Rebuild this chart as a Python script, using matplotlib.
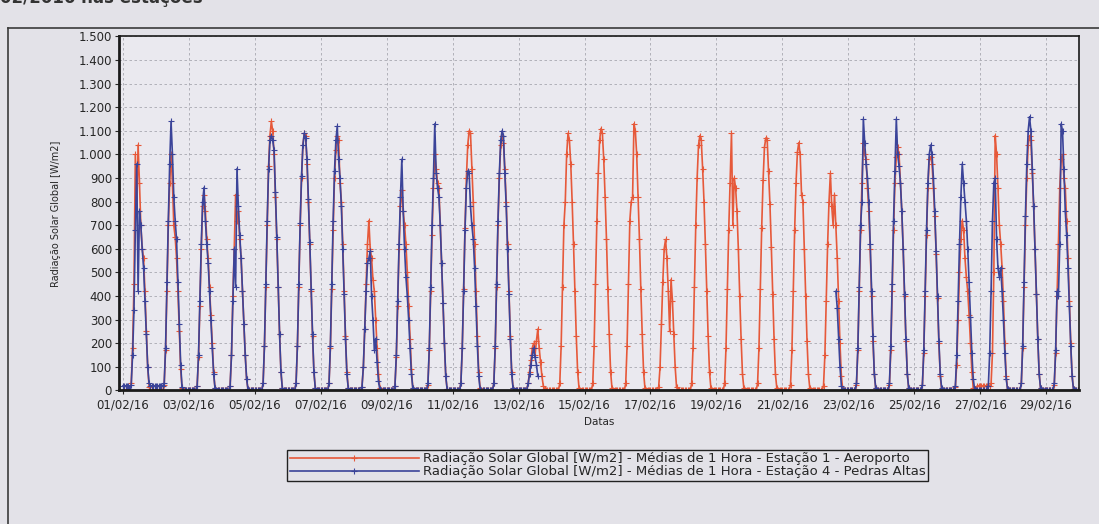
import numpy as np
import pandas as pd
import matplotlib
matplotlib.use("Agg")
import matplotlib.pyplot as plt
import matplotlib.dates as mdates
from matplotlib.ticker import FuncFormatter, MultipleLocator
from matplotlib.lines import Line2D

nan = np.nan

# dias de fevereiro/2016
dias = pd.date_range("2016-02-01", "2016-02-29", freq="D")

# madrugada (0h-4h) de cada dia
aero_madrugada = [0, 0, 0, 0, 0, 0, 0, 0, 0, 0, 0, 0, 0, 0, 0,
                  0, 0, 0, 0, 0, 0, 0, 0, 0, 0, 0, 20, 0, 0]
pedras_madrugada = [20, 20, 0, 0, 0, 0, 0, 0, 0, 0, 0, 0, 0, nan, nan,
                    nan, nan, nan, nan, nan, nan, nan, 0, 0, 0, 0, 0, 0, 0]

# valores horarios das 5h as 23h, Estacao 1 - Aeroporto
aero_perfil = [
    [0, 30, 180, 450, 1000, 760, 1040, 880, 700, 600, 560, 420, 250, 100, 15, 0, 0, 0, 0],
    [0, 25, 170, 420, 700, 880, 1000, 880, 700, 650, 560, 420, 250, 90, 10, 0, 0, 0, 0],
    [0, 20, 140, 360, 600, 780, 830, 760, 640, 560, 440, 320, 200, 80, 10, 0, 0, 0, 0],
    [0, 20, 150, 400, 600, 830, 720, 760, 640, 560, 420, 280, 150, 50, 5, 0, 0, 0, 0],
    [0, 30, 190, 440, 700, 950, 1080, 1140, 1100, 1000, 820, 640, 440, 240, 80, 10, 0, 0, 0],
    [0, 30, 190, 440, 700, 900, 1040, 1090, 1080, 960, 800, 620, 420, 230, 80, 10, 0, 0, 0],
    [0, 30, 180, 430, 680, 900, 1020, 1080, 1060, 880, 800, 620, 420, 230, 80, 10, 0, 0, 0],
    [0, 15, 100, 260, 450, 620, 720, 600, 560, 470, 420, 300, 180, 70, 10, 0, 0, 0, 0],
    [0, 20, 140, 360, 600, 780, 850, 760, 700, 620, 500, 360, 220, 90, 10, 0, 0, 0, 0],
    [0, 25, 170, 420, 660, 860, 1000, 940, 880, 860, 700, 540, 370, 200, 60, 5, 0, 0, 0],
    [0, 30, 180, 430, 690, 900, 1040, 1100, 1090, 940, 800, 620, 420, 230, 80, 10, 0, 0, 0],
    [0, 30, 180, 440, 700, 900, 1040, 1080, 1050, 940, 800, 620, 420, 230, 80, 10, 0, 0, 0],
    [0, 5, 30, 80, 130, 180, 200, 150, 210, 260, 180, 120, 60, 20, 5, 0, 0, 0, 0],
    [0, 30, 190, 440, 700, 800, 1000, 1090, 1060, 960, 800, 620, 420, 230, 80, 10, 0, 0, 0],
    [0, 30, 190, 450, 720, 920, 1060, 1110, 1090, 980, 820, 640, 430, 240, 80, 10, 0, 0, 0],
    [0, 30, 190, 450, 720, 800, 820, 1130, 1100, 1000, 820, 640, 430, 240, 80, 10, 0, 0, 0],
    [0, 15, 100, 280, 460, 600, 640, 560, 420, 250, 470, 380, 240, 100, 15, 0, 0, 0, 0],
    [0, 30, 180, 440, 700, 900, 1040, 1080, 1060, 940, 800, 620, 420, 230, 80, 10, 0, 0, 0],
    [0, 30, 180, 430, 680, 880, 1090, 700, 900, 860, 760, 600, 400, 220, 70, 10, 0, 0, 0],
    [0, 30, 180, 430, 690, 890, 1030, 1070, 1060, 930, 790, 610, 410, 220, 70, 10, 0, 0, 0],
    [0, 25, 170, 420, 680, 880, 1010, 1050, 1000, 830, 800, 600, 400, 210, 70, 10, 0, 0, 0],
    [0, 20, 150, 380, 620, 800, 920, 780, 700, 830, 700, 560, 380, 200, 60, 5, 0, 0, 0],
    [0, 25, 170, 420, 680, 880, 1050, 1000, 980, 860, 760, 600, 400, 210, 70, 10, 0, 0, 0],
    [0, 25, 170, 420, 680, 880, 990, 1030, 1000, 880, 760, 600, 400, 210, 70, 10, 0, 0, 0],
    [0, 25, 160, 400, 660, 860, 980, 990, 960, 860, 740, 580, 390, 200, 60, 5, 0, 0, 0],
    [0, 15, 110, 300, 500, 640, 720, 680, 560, 480, 420, 320, 200, 80, 10, 0, 0, 20, 20],
    [20, 20, 20, 30, 160, 500, 1080, 1000, 860, 700, 620, 520, 380, 200, 60, 5, 0, 0, 0],
    [0, 30, 180, 440, 700, 900, 1040, 1080, 1060, 920, 780, 600, 410, 220, 70, 10, 0, 0, 0],
    [0, 25, 160, 400, 620, 860, 980, 1000, 900, 860, 720, 560, 380, 200, 60, 5, 0, 0, 0],
]

# Estacao 4 - Pedras Altas (falha de 13/02 a 22/02)
falha = [nan] * 19
pedras_perfil = [
    [0, 25, 150, 340, 680, 960, 420, 760, 700, 600, 520, 380, 240, 100, 30, 20, 20, 20, 20],
    [20, 30, 180, 460, 720, 960, 1140, 1000, 820, 720, 640, 460, 280, 110, 15, 0, 0, 0, 0],
    [0, 20, 150, 380, 620, 800, 860, 720, 620, 540, 420, 300, 180, 70, 10, 0, 0, 0, 0],
    [0, 20, 150, 380, 600, 440, 940, 780, 660, 560, 420, 280, 150, 50, 5, 0, 0, 0, 0],
    [0, 30, 190, 450, 720, 940, 1060, 1080, 1060, 1020, 840, 650, 440, 240, 80, 10, 0, 0, 0],
    [0, 30, 190, 450, 710, 910, 1040, 1090, 1070, 980, 810, 630, 430, 240, 80, 10, 0, 0, 0],
    [0, 30, 190, 450, 720, 930, 1060, 1120, 980, 900, 780, 600, 410, 220, 70, 10, 0, 0, 0],
    [0, 15, 100, 260, 420, 540, 560, 590, 400, 300, 170, 220, 120, 40, 5, 0, 0, 0, 0],
    [0, 20, 150, 380, 620, 820, 980, 760, 600, 480, 400, 300, 180, 70, 10, 0, 0, 0, 0],
    [0, 30, 180, 440, 700, 900, 1130, 920, 860, 820, 700, 540, 370, 200, 60, 5, 0, 0, 0],
    [0, 30, 180, 420, 680, 860, 930, 920, 780, 700, 640, 520, 360, 190, 60, 5, 0, 0, 0],
    [0, 30, 190, 450, 720, 920, 1060, 1100, 1080, 920, 780, 600, 410, 220, 70, 10, 0, 0, 0],
    [0, 5, 30, 70, 110, 150, 180, 140, 110, 60, nan, nan, nan, nan, nan, nan, nan, nan, nan],
    falha, falha, falha, falha, falha, falha, falha, falha,
    [nan, nan, nan, nan, nan, nan, nan, nan, nan, nan, 420, 350, 220, 100, 20, 0, 0, 0, 0],
    [0, 30, 180, 440, 700, 800, 1150, 1050, 960, 900, 800, 620, 420, 230, 70, 10, 0, 0, 0],
    [0, 30, 190, 450, 720, 930, 1150, 1000, 950, 880, 760, 600, 410, 220, 70, 10, 0, 0, 0],
    [0, 25, 170, 420, 680, 880, 1000, 1040, 1000, 900, 760, 590, 400, 210, 70, 10, 0, 0, 0],
    [0, 20, 150, 380, 620, 820, 960, 880, 800, 720, 600, 460, 310, 160, 50, 5, 0, 0, 0],
    [0, 20, 160, 420, 720, 880, 900, 640, 520, 480, 520, 420, 300, 160, 50, 5, 0, 0, 0],
    [0, 30, 190, 460, 740, 960, 1100, 1160, 1100, 940, 780, 600, 410, 220, 70, 10, 0, 0, 0],
    [0, 30, 170, 420, 400, 620, 1130, 1100, 940, 760, 660, 520, 360, 190, 60, 5, 0, 0, 0],
]

label_aero = "Radiação Solar Global [W/m2] - Médias de 1 Hora - Estação 1 - Aeroporto"
label_pedras = "Radiação Solar Global [W/m2] - Médias de 1 Hora - Estação 4 - Pedras Altas"

aero = []
for m, p in zip(aero_madrugada, aero_perfil):
    aero += [m] * 5 + p
pedras = []
for m, p in zip(pedras_madrugada, pedras_perfil):
    pedras += [m] * 5 + p
horas = pd.date_range(dias[0], periods=len(aero), freq="h")

papel = "#e3e2e8"
txt = "#262626"
plt.rcParams["font.family"] = ["DejaVu Sans"]

fig = plt.figure(figsize=(10.99, 5.24), dpi=100, facecolor=papel)
ax = fig.add_axes([0.1083, 0.2548, 0.8735, 0.6756], facecolor="#eae9ef")

ax.plot(horas, aero, color="#e6593a", lw=1.2, marker="+", ms=4, mew=0.8, label=label_aero)
ax.plot(horas, pedras, color="#3b4499", lw=1.2, marker="+", ms=4, mew=0.8, label=label_pedras)

ax.set_ylim(0, 1500)
ax.yaxis.set_major_locator(MultipleLocator(100))
ax.yaxis.set_major_formatter(FuncFormatter(lambda v, p: f"{v:,.0f}".replace(",", ".")))
ax.set_xlim(mdates.date2num(dias[0]) - 0.12, mdates.date2num(dias[-1]) + 1.0)
ax.set_xticks(dias[::2])
ax.xaxis.set_major_formatter(mdates.DateFormatter("%d/%m/%y"))

ax.grid(True, color="#a8a8b0", lw=0.6, ls=(0, (3, 3)))
ax.tick_params(labelsize=8.5, colors=txt, length=3, width=0.8)
ax.tick_params(axis="x", pad=3)
ax.tick_params(axis="y", pad=2)
for s in ["left", "bottom"]:
    ax.spines[s].set_linewidth(2.0)
for s in ["top", "right"]:
    ax.spines[s].set_linewidth(1.2)
for s in ax.spines.values():
    s.set_color("#1a1a1a")

ax.set_ylabel("Radiação Solar Global [W/m2]", fontsize=7, color=txt)
ax.yaxis.set_label_coords(-0.06, 0.5)
ax.set_xlabel("Datas", fontsize=7.5, color=txt)
ax.xaxis.set_label_coords(0.5, -0.075)

leg = fig.legend(loc="center", bbox_to_anchor=(0.553, 0.112), fontsize=9.5,
                 handlelength=9.8, numpoints=1, fancybox=False, framealpha=1,
                 facecolor=papel, edgecolor="#222222", borderpad=0.2,
                 labelspacing=0.0, handletextpad=0.3, borderaxespad=0)
leg.get_frame().set_linewidth(1.0)
for t in leg.get_texts():
    t.set_color(txt)

# moldura da pagina digitalizada
fig.add_artist(Line2D([0.0073, 0.0073], [0, 0.9466], color="#3a3a3a", lw=1.2))
fig.add_artist(Line2D([0.0073, 1.0], [0.9466, 0.9466], color="#3a3a3a", lw=1.2))
fig.text(0.0, 1.004, "02/2016 nas estações", fontsize=12, fontweight="bold",
         color="#333333", ha="left", va="center")

fig.savefig("out.png", dpi=100, facecolor=papel)
